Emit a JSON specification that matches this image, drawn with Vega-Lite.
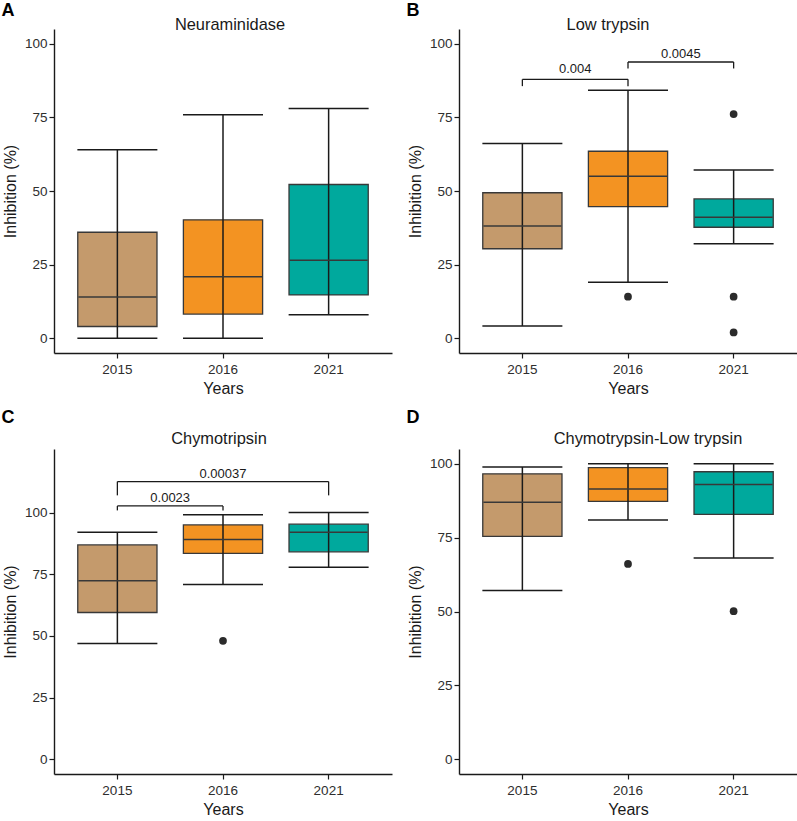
{
  "$schema": "https://vega.github.io/schema/vega-lite/v6.json",
  "background": "white",
  "padding": {"left": 1, "top": 1, "right": 0, "bottom": 0},
  "config": {
    "font": "Liberation Sans",
    "view": {"stroke": null},
    "axis": {
      "domainColor": "#1a1a1a", "domainWidth": 1.4, "tickColor": "#1a1a1a", "tickWidth": 1.2, "tickSize": 5,
      "labelColor": "#2e2e2e", "labelFontSize": 13.5, "labelFont": "Liberation Sans",
      "titleFont": "Liberation Sans", "titleFontSize": 16, "titleFontWeight": "normal", "titleColor": "#1a1a1a",
      "grid": false
    },
    "axisX": {"labelPadding": 4, "titlePadding": 5, "labelAngle": 0},
    "axisY": {"labelPadding": 2, "titlePadding": 6},
    "title": {"font": "Liberation Sans", "fontWeight": "normal", "fontSize": 16.4, "color": "#1a1a1a"}
  },
  "datasets": {
    "boxes": [
      {"panel": "A", "year": "2015", "min": 0, "q1": 4, "median": 14, "q3": 36, "max": 64},
      {"panel": "A", "year": "2016", "min": 0, "q1": 8.2, "median": 20.9, "q3": 40.2, "max": 75.9},
      {"panel": "A", "year": "2021", "min": 8, "q1": 14.7, "median": 26.5, "q3": 52.2, "max": 78},
      {"panel": "B", "year": "2015", "min": 4.2, "q1": 30.4, "median": 38.1, "q3": 49.4, "max": 66.1},
      {"panel": "B", "year": "2016", "min": 19, "q1": 44.7, "median": 55, "q3": 63.5, "max": 84.2},
      {"panel": "B", "year": "2021", "min": 32.1, "q1": 37.7, "median": 41.1, "q3": 47.3, "max": 57.1},
      {"panel": "C", "year": "2015", "min": 46.9, "q1": 59.5, "median": 72.4, "q3": 86.9, "max": 92},
      {"panel": "C", "year": "2016", "min": 70.9, "q1": 83.5, "median": 89.1, "q3": 95, "max": 99.1},
      {"panel": "C", "year": "2021", "min": 77.8, "q1": 84.1, "median": 92, "q3": 95.3, "max": 100},
      {"panel": "D", "year": "2015", "min": 57.1, "q1": 75.4, "median": 87, "q3": 96.6, "max": 98.9},
      {"panel": "D", "year": "2016", "min": 81, "q1": 87.3, "median": 91.5, "q3": 98.7, "max": 100},
      {"panel": "D", "year": "2021", "min": 68.1, "q1": 82.9, "median": 93, "q3": 97.3, "max": 100}
    ],
    "outliers": [
      {"panel": "B", "year": "2016", "value": 14.1},
      {"panel": "B", "year": "2021", "value": 76.1},
      {"panel": "B", "year": "2021", "value": 14.1},
      {"panel": "B", "year": "2021", "value": 2.0},
      {"panel": "C", "year": "2016", "value": 48},
      {"panel": "D", "year": "2016", "value": 66.1},
      {"panel": "D", "year": "2021", "value": 50.1}
    ],
    "brackets": [
      {"panel": "B", "from": "2015", "to": "2016", "top": 87.9, "leg": 85.6, "label": "0.004", "ly": 89.9, "at": "2016", "kind": "adj"},
      {"panel": "B", "from": "2016", "to": "2021", "top": 93.8, "leg": 91.6, "label": "0.0045", "ly": 95.3, "at": "2021", "kind": "adj"},
      {"panel": "C", "from": "2015", "to": "2016", "top": 102.7, "leg": 100.9, "label": "0.0023", "ly": 104.4, "at": "2016", "kind": "adj"},
      {"panel": "C", "from": "2015", "to": "2021", "top": 112.6, "leg": 107.0, "label": "0.00037", "ly": 114.1, "at": "2016", "kind": "wide"}
    ]
  },
  "columns": 2,
  "spacing": {"row": 11, "column": 14},
  "concat": [
    {
      "title": {"text": "A", "anchor": "start", "fontSize": 18, "fontWeight": "bold", "color": "#000000", "offset": -3, "dx": -1},
      "vconcat": [{
        "title": {"text": "Neuraminidase", "anchor": "middle", "frame": "group", "offset": -4, "dx": 7},
        "width": 338, "height": 324,
        "layer": [
          {"data": {"name": "boxes"}, "transform": [{"filter": "datum.panel === 'A'"}],
           "mark": {"type": "bar", "width": {"band": 0.75}, "stroke": "#383838", "strokeWidth": 1.3},
           "encoding": {
             "x": {"field": "year", "type": "nominal", "scale": {"domain": ["2015", "2016", "2021"], "paddingInner": 0, "paddingOuter": 0.1}, "axis": {"title": "Years"}},
             "y": {"field": "q1", "type": "quantitative", "scale": {"domain": [-5, 105], "nice": false, "zero": false}, "axis": {"values": [0, 25, 50, 75, 100], "title": "Inhibition (%)"}},
             "y2": {"field": "q3"},
             "color": {"field": "year", "type": "nominal", "scale": {"domain": ["2015", "2016", "2021"], "range": ["#C49A6C", "#F39322", "#00A99D"]}, "legend": null}
           }},
          {"data": {"name": "boxes"}, "transform": [{"filter": "datum.panel === 'A'"}],
           "mark": {"type": "rule", "color": "#1a1a1a", "strokeWidth": 1.5},
           "encoding": {
             "x": {"field": "year", "type": "nominal", "axis": {"title": "Years"}},
             "y": {"field": "min", "type": "quantitative", "axis": {"title": "Inhibition (%)"}},
             "y2": {"field": "max"}
           }},
          {"data": {"name": "boxes"}, "transform": [{"filter": "datum.panel === 'A'"}],
           "mark": {"type": "tick", "orient": "horizontal", "size": 80, "thickness": 1.5, "color": "#1a1a1a", "opacity": 1},
           "encoding": {
             "x": {"field": "year", "type": "nominal", "axis": {"title": "Years"}},
             "y": {"field": "min", "type": "quantitative", "axis": {"title": "Inhibition (%)"}}
           }},
          {"data": {"name": "boxes"}, "transform": [{"filter": "datum.panel === 'A'"}],
           "mark": {"type": "tick", "orient": "horizontal", "size": 80, "thickness": 1.5, "color": "#1a1a1a", "opacity": 1},
           "encoding": {
             "x": {"field": "year", "type": "nominal", "axis": {"title": "Years"}},
             "y": {"field": "max", "type": "quantitative", "axis": {"title": "Inhibition (%)"}}
           }},
          {"data": {"name": "boxes"}, "transform": [{"filter": "datum.panel === 'A'"}],
           "mark": {"type": "tick", "orient": "horizontal", "size": 78, "thickness": 1.5, "color": "#383838", "opacity": 1},
           "encoding": {
             "x": {"field": "year", "type": "nominal", "axis": {"title": "Years"}},
             "y": {"field": "median", "type": "quantitative", "axis": {"title": "Inhibition (%)"}}
           }}
        ]
      }]
    },
    {
      "title": {"text": "B", "anchor": "start", "fontSize": 18, "fontWeight": "bold", "color": "#000000", "offset": -3, "dx": -1},
      "vconcat": [{
        "title": {"text": "Low trypsin", "anchor": "middle", "frame": "group", "offset": -4, "dx": -20},
        "width": 338, "height": 324,
        "layer": [
          {"data": {"name": "boxes"}, "transform": [{"filter": "datum.panel === 'B'"}],
           "mark": {"type": "bar", "width": {"band": 0.75}, "stroke": "#383838", "strokeWidth": 1.3},
           "encoding": {
             "x": {"field": "year", "type": "nominal", "scale": {"domain": ["2015", "2016", "2021"], "paddingInner": 0, "paddingOuter": 0.1}, "axis": {"title": "Years"}},
             "y": {"field": "q1", "type": "quantitative", "scale": {"domain": [-5, 105], "nice": false, "zero": false}, "axis": {"values": [0, 25, 50, 75, 100], "title": "Inhibition (%)"}},
             "y2": {"field": "q3"},
             "color": {"field": "year", "type": "nominal", "scale": {"domain": ["2015", "2016", "2021"], "range": ["#C49A6C", "#F39322", "#00A99D"]}, "legend": null}
           }},
          {"data": {"name": "boxes"}, "transform": [{"filter": "datum.panel === 'B'"}],
           "mark": {"type": "rule", "color": "#1a1a1a", "strokeWidth": 1.5},
           "encoding": {
             "x": {"field": "year", "type": "nominal", "axis": {"title": "Years"}},
             "y": {"field": "min", "type": "quantitative", "axis": {"title": "Inhibition (%)"}},
             "y2": {"field": "max"}
           }},
          {"data": {"name": "boxes"}, "transform": [{"filter": "datum.panel === 'B'"}],
           "mark": {"type": "tick", "orient": "horizontal", "size": 80, "thickness": 1.5, "color": "#1a1a1a", "opacity": 1},
           "encoding": {
             "x": {"field": "year", "type": "nominal", "axis": {"title": "Years"}},
             "y": {"field": "min", "type": "quantitative", "axis": {"title": "Inhibition (%)"}}
           }},
          {"data": {"name": "boxes"}, "transform": [{"filter": "datum.panel === 'B'"}],
           "mark": {"type": "tick", "orient": "horizontal", "size": 80, "thickness": 1.5, "color": "#1a1a1a", "opacity": 1},
           "encoding": {
             "x": {"field": "year", "type": "nominal", "axis": {"title": "Years"}},
             "y": {"field": "max", "type": "quantitative", "axis": {"title": "Inhibition (%)"}}
           }},
          {"data": {"name": "boxes"}, "transform": [{"filter": "datum.panel === 'B'"}],
           "mark": {"type": "tick", "orient": "horizontal", "size": 78, "thickness": 1.5, "color": "#383838", "opacity": 1},
           "encoding": {
             "x": {"field": "year", "type": "nominal", "axis": {"title": "Years"}},
             "y": {"field": "median", "type": "quantitative", "axis": {"title": "Inhibition (%)"}}
           }},
          {"data": {"name": "outliers"}, "transform": [{"filter": "datum.panel === 'B'"}],
           "mark": {"type": "point", "filled": true, "size": 60, "color": "#2b2b2b", "opacity": 1},
           "encoding": {
             "x": {"field": "year", "type": "nominal", "axis": {"title": "Years"}},
             "y": {"field": "value", "type": "quantitative", "axis": {"title": "Inhibition (%)"}}
           }},
          {"data": {"name": "brackets"}, "transform": [{"filter": "datum.panel === 'B'"}],
           "mark": {"type": "rule", "color": "#1a1a1a", "strokeWidth": 1.3},
           "encoding": {
             "x": {"field": "from", "type": "nominal", "axis": {"title": "Years"}},
             "x2": {"field": "to"},
             "y": {"field": "top", "type": "quantitative", "axis": {"title": "Inhibition (%)"}}
           }},
          {"data": {"name": "brackets"}, "transform": [{"filter": "datum.panel === 'B'"}],
           "mark": {"type": "rule", "color": "#1a1a1a", "strokeWidth": 1.3},
           "encoding": {
             "x": {"field": "from", "type": "nominal", "axis": {"title": "Years"}},
             "y": {"field": "top", "type": "quantitative", "axis": {"title": "Inhibition (%)"}},
             "y2": {"field": "leg"}
           }},
          {"data": {"name": "brackets"}, "transform": [{"filter": "datum.panel === 'B'"}],
           "mark": {"type": "rule", "color": "#1a1a1a", "strokeWidth": 1.3},
           "encoding": {
             "x": {"field": "to", "type": "nominal", "axis": {"title": "Years"}},
             "y": {"field": "top", "type": "quantitative", "axis": {"title": "Inhibition (%)"}},
             "y2": {"field": "leg"}
           }},
          {"data": {"name": "brackets"}, "transform": [{"filter": "datum.panel === 'B' && datum.kind === 'adj'"}],
           "mark": {"type": "text", "fontSize": 13, "color": "#1a1a1a", "baseline": "alphabetic", "align": "center"},
           "encoding": {
             "x": {"field": "at", "type": "nominal", "bandPosition": 0, "axis": {"title": "Years"}},
             "y": {"field": "ly", "type": "quantitative", "axis": {"title": "Inhibition (%)"}},
             "text": {"field": "label"}
           }}
        ]
      }]
    },
    {
      "title": {"text": "C", "anchor": "start", "fontSize": 18, "fontWeight": "bold", "color": "#000000", "offset": 4, "dx": -1},
      "vconcat": [{
        "title": {"text": "Chymotripsin", "anchor": "middle", "frame": "group", "offset": 2, "dx": -4},
        "width": 338, "height": 325,
        "layer": [
          {"data": {"name": "boxes"}, "transform": [{"filter": "datum.panel === 'C'"}],
           "mark": {"type": "bar", "width": {"band": 0.75}, "stroke": "#383838", "strokeWidth": 1.3},
           "encoding": {
             "x": {"field": "year", "type": "nominal", "scale": {"domain": ["2015", "2016", "2021"], "paddingInner": 0, "paddingOuter": 0.1}, "axis": {"title": "Years"}},
             "y": {"field": "q1", "type": "quantitative", "scale": {"domain": [-6, 125.8], "nice": false, "zero": false}, "axis": {"values": [0, 25, 50, 75, 100], "title": "Inhibition (%)"}},
             "y2": {"field": "q3"},
             "color": {"field": "year", "type": "nominal", "scale": {"domain": ["2015", "2016", "2021"], "range": ["#C49A6C", "#F39322", "#00A99D"]}, "legend": null}
           }},
          {"data": {"name": "boxes"}, "transform": [{"filter": "datum.panel === 'C'"}],
           "mark": {"type": "rule", "color": "#1a1a1a", "strokeWidth": 1.5},
           "encoding": {
             "x": {"field": "year", "type": "nominal", "axis": {"title": "Years"}},
             "y": {"field": "min", "type": "quantitative", "axis": {"title": "Inhibition (%)"}},
             "y2": {"field": "max"}
           }},
          {"data": {"name": "boxes"}, "transform": [{"filter": "datum.panel === 'C'"}],
           "mark": {"type": "tick", "orient": "horizontal", "size": 80, "thickness": 1.5, "color": "#1a1a1a", "opacity": 1},
           "encoding": {
             "x": {"field": "year", "type": "nominal", "axis": {"title": "Years"}},
             "y": {"field": "min", "type": "quantitative", "axis": {"title": "Inhibition (%)"}}
           }},
          {"data": {"name": "boxes"}, "transform": [{"filter": "datum.panel === 'C'"}],
           "mark": {"type": "tick", "orient": "horizontal", "size": 80, "thickness": 1.5, "color": "#1a1a1a", "opacity": 1},
           "encoding": {
             "x": {"field": "year", "type": "nominal", "axis": {"title": "Years"}},
             "y": {"field": "max", "type": "quantitative", "axis": {"title": "Inhibition (%)"}}
           }},
          {"data": {"name": "boxes"}, "transform": [{"filter": "datum.panel === 'C'"}],
           "mark": {"type": "tick", "orient": "horizontal", "size": 78, "thickness": 1.5, "color": "#383838", "opacity": 1},
           "encoding": {
             "x": {"field": "year", "type": "nominal", "axis": {"title": "Years"}},
             "y": {"field": "median", "type": "quantitative", "axis": {"title": "Inhibition (%)"}}
           }},
          {"data": {"name": "outliers"}, "transform": [{"filter": "datum.panel === 'C'"}],
           "mark": {"type": "point", "filled": true, "size": 60, "color": "#2b2b2b", "opacity": 1},
           "encoding": {
             "x": {"field": "year", "type": "nominal", "axis": {"title": "Years"}},
             "y": {"field": "value", "type": "quantitative", "axis": {"title": "Inhibition (%)"}}
           }},
          {"data": {"name": "brackets"}, "transform": [{"filter": "datum.panel === 'C'"}],
           "mark": {"type": "rule", "color": "#1a1a1a", "strokeWidth": 1.3},
           "encoding": {
             "x": {"field": "from", "type": "nominal", "axis": {"title": "Years"}},
             "x2": {"field": "to"},
             "y": {"field": "top", "type": "quantitative", "axis": {"title": "Inhibition (%)"}}
           }},
          {"data": {"name": "brackets"}, "transform": [{"filter": "datum.panel === 'C'"}],
           "mark": {"type": "rule", "color": "#1a1a1a", "strokeWidth": 1.3},
           "encoding": {
             "x": {"field": "from", "type": "nominal", "axis": {"title": "Years"}},
             "y": {"field": "top", "type": "quantitative", "axis": {"title": "Inhibition (%)"}},
             "y2": {"field": "leg"}
           }},
          {"data": {"name": "brackets"}, "transform": [{"filter": "datum.panel === 'C'"}],
           "mark": {"type": "rule", "color": "#1a1a1a", "strokeWidth": 1.3},
           "encoding": {
             "x": {"field": "to", "type": "nominal", "axis": {"title": "Years"}},
             "y": {"field": "top", "type": "quantitative", "axis": {"title": "Inhibition (%)"}},
             "y2": {"field": "leg"}
           }},
          {"data": {"name": "brackets"}, "transform": [{"filter": "datum.panel === 'C' && datum.kind === 'adj'"}],
           "mark": {"type": "text", "fontSize": 13, "color": "#1a1a1a", "baseline": "alphabetic", "align": "center"},
           "encoding": {
             "x": {"field": "at", "type": "nominal", "bandPosition": 0, "axis": {"title": "Years"}},
             "y": {"field": "ly", "type": "quantitative", "axis": {"title": "Inhibition (%)"}},
             "text": {"field": "label"}
           }},
          {"data": {"name": "brackets"}, "transform": [{"filter": "datum.panel === 'C' && datum.kind === 'wide'"}],
           "mark": {"type": "text", "fontSize": 13, "color": "#1a1a1a", "baseline": "alphabetic", "align": "center"},
           "encoding": {
             "x": {"field": "at", "type": "nominal", "bandPosition": 0.5, "axis": {"title": "Years"}},
             "y": {"field": "ly", "type": "quantitative", "axis": {"title": "Inhibition (%)"}},
             "text": {"field": "label"}
           }}
        ]
      }]
    },
    {
      "title": {"text": "D", "anchor": "start", "fontSize": 18, "fontWeight": "bold", "color": "#000000", "offset": 4, "dx": -1},
      "vconcat": [{
        "title": {"text": "Chymotrypsin-Low trypsin", "anchor": "middle", "frame": "group", "offset": 2, "dx": 20},
        "width": 338, "height": 325,
        "layer": [
          {"data": {"name": "boxes"}, "transform": [{"filter": "datum.panel === 'D'"}],
           "mark": {"type": "bar", "width": {"band": 0.75}, "stroke": "#383838", "strokeWidth": 1.3},
           "encoding": {
             "x": {"field": "year", "type": "nominal", "scale": {"domain": ["2015", "2016", "2021"], "paddingInner": 0, "paddingOuter": 0.1}, "axis": {"title": "Years"}},
             "y": {"field": "q1", "type": "quantitative", "scale": {"domain": [-5, 105], "nice": false, "zero": false}, "axis": {"values": [0, 25, 50, 75, 100], "title": "Inhibition (%)"}},
             "y2": {"field": "q3"},
             "color": {"field": "year", "type": "nominal", "scale": {"domain": ["2015", "2016", "2021"], "range": ["#C49A6C", "#F39322", "#00A99D"]}, "legend": null}
           }},
          {"data": {"name": "boxes"}, "transform": [{"filter": "datum.panel === 'D'"}],
           "mark": {"type": "rule", "color": "#1a1a1a", "strokeWidth": 1.5},
           "encoding": {
             "x": {"field": "year", "type": "nominal", "axis": {"title": "Years"}},
             "y": {"field": "min", "type": "quantitative", "axis": {"title": "Inhibition (%)"}},
             "y2": {"field": "max"}
           }},
          {"data": {"name": "boxes"}, "transform": [{"filter": "datum.panel === 'D'"}],
           "mark": {"type": "tick", "orient": "horizontal", "size": 80, "thickness": 1.5, "color": "#1a1a1a", "opacity": 1},
           "encoding": {
             "x": {"field": "year", "type": "nominal", "axis": {"title": "Years"}},
             "y": {"field": "min", "type": "quantitative", "axis": {"title": "Inhibition (%)"}}
           }},
          {"data": {"name": "boxes"}, "transform": [{"filter": "datum.panel === 'D'"}],
           "mark": {"type": "tick", "orient": "horizontal", "size": 80, "thickness": 1.5, "color": "#1a1a1a", "opacity": 1},
           "encoding": {
             "x": {"field": "year", "type": "nominal", "axis": {"title": "Years"}},
             "y": {"field": "max", "type": "quantitative", "axis": {"title": "Inhibition (%)"}}
           }},
          {"data": {"name": "boxes"}, "transform": [{"filter": "datum.panel === 'D'"}],
           "mark": {"type": "tick", "orient": "horizontal", "size": 78, "thickness": 1.5, "color": "#383838", "opacity": 1},
           "encoding": {
             "x": {"field": "year", "type": "nominal", "axis": {"title": "Years"}},
             "y": {"field": "median", "type": "quantitative", "axis": {"title": "Inhibition (%)"}}
           }},
          {"data": {"name": "outliers"}, "transform": [{"filter": "datum.panel === 'D'"}],
           "mark": {"type": "point", "filled": true, "size": 60, "color": "#2b2b2b", "opacity": 1},
           "encoding": {
             "x": {"field": "year", "type": "nominal", "axis": {"title": "Years"}},
             "y": {"field": "value", "type": "quantitative", "axis": {"title": "Inhibition (%)"}}
           }}
        ]
      }]
    }
  ]
}
